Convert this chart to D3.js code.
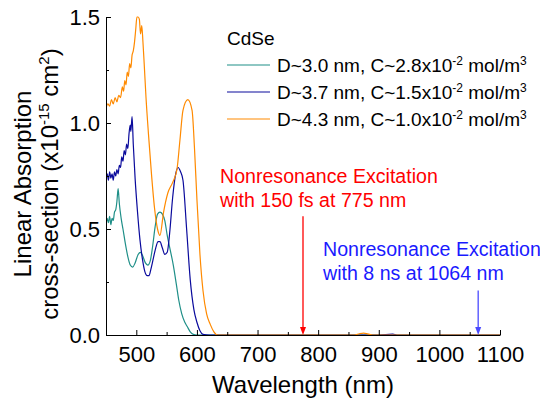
<!DOCTYPE html>
<html><head><meta charset="utf-8">
<script src="https://cdn.jsdelivr.net/npm/d3@7"></script>
<style>
body{margin:0;background:#fff;}
svg{display:block;font-family:"Liberation Sans",Arial,sans-serif;}
</style></head>
<body><svg id="c" width="540" height="405"></svg>
<script>
// ---- data ----
const seriesNames = ["D~3.0 nm, C~2.8x10", "D~3.7 nm, C~1.5x10", "D~4.3 nm, C~1.0x10"];
const seriesColors = ["#1f8f88", "#0a0a9c", "#ff8a00"];

const wl30  = [450,452,454,456,458,460,462,464,466,468,470,472,475,478,482,486,490,494,498,503,507,511,515,519,523,527,531,535,539,543,547,551,556,561,566,570,575,580,584,589,594,600,700,800,900,1000,1100];
const val30 = [0.52,0.55,0.53,0.56,0.52,0.55,0.54,0.58,0.59,0.63,0.69,0.62,0.55,0.50,0.43,0.37,0.33,0.32,0.34,0.38,0.39,0.37,0.34,0.33,0.35,0.42,0.51,0.57,0.58,0.57,0.54,0.47,0.40,0.33,0.24,0.165,0.10,0.06,0.04,0.015,0.003,0,0,0,0,0,0];

const wl37  = [450,452,454,456,458,460,462,464,466,468,470,472,474,476,478,480,482,484,486,488,490,491,493,495,498,502,506,510,514,518,521,524,528,532,536,539,543,547,551,555,560,565,569,573,577,583,589,595,600,605,610,620,700,800,900,923,930,1000,1100];
const val37 = [0.74,0.76,0.73,0.77,0.74,0.76,0.73,0.77,0.75,0.78,0.76,0.80,0.79,0.84,0.82,0.87,0.85,0.90,0.88,0.95,0.99,0.96,1.03,0.90,0.74,0.58,0.45,0.36,0.30,0.28,0.28,0.31,0.36,0.41,0.44,0.44,0.41,0.38,0.39,0.48,0.65,0.76,0.79,0.77,0.73,0.50,0.26,0.12,0.06,0.02,0.003,0,0,0,0,0.004,0,0,0];

const wl43  = [450,453,456,459,462,465,468,471,474,477,479,481,483,485,487,489,491,493,495,497,499,501,503,505,507,509,511,513,516,520,525,530,535,539,545,552,560,567,572,577,585,592,596,600,605,610,616,622,628,634,700,860,868,875,882,890,1000,1100];
const val43 = [1.07,1.09,1.08,1.11,1.09,1.12,1.10,1.13,1.12,1.17,1.15,1.20,1.18,1.24,1.22,1.28,1.26,1.32,1.34,1.38,1.44,1.50,1.50,1.49,1.42,1.46,1.38,1.28,1.12,0.95,0.76,0.60,0.50,0.47,0.58,0.67,0.72,0.78,0.92,1.06,1.11,1.06,0.88,0.64,0.38,0.21,0.10,0.05,0.015,0,0,0,0.006,0.009,0.005,0,0,0];

const xMajorTicks = [500,600,700,800,900,1000,1100];
const xMinorTicks = [550,650,750,850,950,1050];
const yMajorTicks = [0,0.5,1.0,1.5];
const yTickLabels = ["0.0","0.5","1.0","1.5"];
const yMinorTicks = [0.25,0.75,1.25];
const arrowWavelengths = [775, 1064];
const arrowTops = [0.56, 0.21];

// ---- drawing ----
const svg = d3.select("#c");
const L=106, R=500, T=17, B=335;
const x = d3.scaleLinear().domain([450,1100]).range([L,R]);
const y = d3.scaleLinear().domain([0,1.5]).range([B,T]);

svg.append("defs").append("clipPath").attr("id","clip")
  .append("rect").attr("x",L).attr("y",T-1).attr("width",R-L).attr("height",B-T+1);

const line = d3.line().x(d=>x(d[0])).y(d=>y(d[1])).curve(d3.curveMonotoneX);
const series = [[wl30,val30],[wl37,val37],[wl43,val43]];
const g = svg.append("g").attr("clip-path","url(#clip)");
series.forEach((s,i)=>{
  g.append("path").datum(s[0].map((w,j)=>[w,s[1][j]]))
   .attr("d",line).attr("fill","none").attr("stroke",seriesColors[i]).attr("stroke-width",1.2);
});

// axes
function styleAxis(sel){
  sel.selectAll("path,line").attr("stroke","#000").attr("stroke-width",1);
  sel.selectAll("text").attr("fill","#000").style("font-size","22px").style("font-family","Liberation Sans, Arial, sans-serif");
}
const xa = svg.append("g").attr("transform",`translate(0,${B})`)
  .call(d3.axisBottom(x).tickValues(xMajorTicks).tickSizeInner(-5).tickSizeOuter(0).tickPadding(11).tickFormat(d3.format("d")));
styleAxis(xa);
const xm = svg.append("g").attr("transform",`translate(0,${B})`)
  .call(d3.axisBottom(x).tickValues(xMinorTicks).tickSizeInner(-3).tickSizeOuter(0).tickFormat(""));
xm.select(".domain").remove(); styleAxis(xm);

const ya = svg.append("g").attr("transform",`translate(${L},0)`)
  .call(d3.axisLeft(y).tickValues(yMajorTicks).tickSizeInner(-5).tickSizeOuter(0).tickPadding(6).tickFormat((d,i)=>yTickLabels[i]));
styleAxis(ya);
const ym = svg.append("g").attr("transform",`translate(${L},0)`)
  .call(d3.axisLeft(y).tickValues(yMinorTicks).tickSizeInner(-3).tickSizeOuter(0).tickFormat(""));
ym.select(".domain").remove(); styleAxis(ym);

// axis titles
svg.append("text").attr("x",(L+R)/2).attr("y",393).attr("text-anchor","middle")
  .style("font-size","24px").text("Wavelength (nm)");
const yt1 = svg.append("text").attr("transform","translate(31,184) rotate(-90)")
  .attr("text-anchor","middle").style("font-size","24px").text("Linear Absorption");
const yt2 = svg.append("text").attr("transform","translate(58,184) rotate(-90)")
  .attr("text-anchor","middle").style("font-size","24px");
yt2.append("tspan").text("cross-section (x10");
yt2.append("tspan").attr("dy",-9).style("font-size","15px").text("-15");
yt2.append("tspan").attr("dy",9).text(" cm");
yt2.append("tspan").attr("dy",-9).style("font-size","15px").text("2");
yt2.append("tspan").attr("dy",9).text(")");

// legend
svg.append("text").attr("x",227).attr("y",45).style("font-size","19px").text("CdSe");
const legY = [65, 92, 119];
const supTexts = ["-2","-2","-2"];
seriesNames.forEach((n,i)=>{
  svg.append("line").attr("x1",227).attr("x2",270).attr("y1",legY[i]).attr("y2",legY[i])
    .attr("stroke",seriesColors[i]).attr("stroke-width",1.2);
  const t = svg.append("text").attr("x",277).attr("y",legY[i]+7).style("font-size","19px");
  t.append("tspan").text(n);
  t.append("tspan").attr("dy",-7).style("font-size","12px").text(supTexts[i]);
  t.append("tspan").attr("dy",7).text(" mol/m");
  t.append("tspan").attr("dy",-7).style("font-size","12px").text("3");
});

// annotations
const annColors = ["#ff0000","#1a1aff"];
const annLines = [["Nonresonance Excitation","with 150 fs at 775 nm"],["Nonresonance Excitation","with 8 ns at 1064 nm"]];
const annPos = [[220,183],[323,256]];
annLines.forEach((ls,i)=>{
  ls.forEach((s,j)=>{
    svg.append("text").attr("x",annPos[i][0]).attr("y",annPos[i][1]+j*24)
      .style("font-size","19.6px").attr("fill",annColors[i]).text(s);
  });
});
const arrowColors = ["#ff0000","#4a4aff"];
arrowWavelengths.forEach((w,i)=>{
  const ax = x(w);
  svg.append("line").attr("x1",ax).attr("x2",ax).attr("y1",y(arrowTops[i])).attr("y2",B-6)
    .attr("stroke",arrowColors[i]).attr("stroke-width",1.3);
  svg.append("path").attr("d",`M${ax-3},${B-8}L${ax+3},${B-8}L${ax},${B}Z`).attr("fill",arrowColors[i]);
});
</script></body></html>
